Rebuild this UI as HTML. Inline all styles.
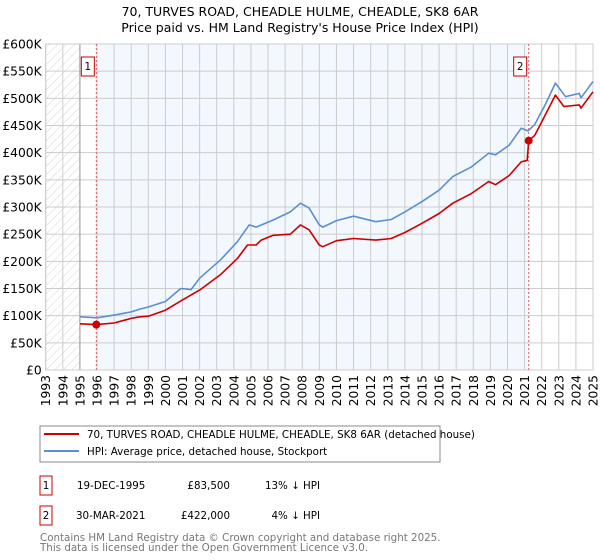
<!DOCTYPE html>
<html><head><meta charset="utf-8"><style>
body{margin:0;background:#fff;font-family:"DejaVu Sans","Liberation Sans",sans-serif;}
#wrap{position:relative;width:600px;height:560px;overflow:hidden}
</style></head><body><div id="wrap">
<svg id="svg" width="600" height="560" style="font-family:'DejaVu Sans','Liberation Sans',sans-serif">
<defs><pattern id="hatch" width="6" height="6" patternUnits="userSpaceOnUse" patternTransform="rotate(45)"><line x1="0" y1="0" x2="0" y2="6" stroke="#ccc" stroke-width="0.8"/></pattern></defs>
<text x="300" y="16" text-anchor="middle" font-size="12.5">70, TURVES ROAD, CHEADLE HULME, CHEADLE, SK8 6AR</text>
<text x="300" y="32" text-anchor="middle" font-size="12.5">Price paid vs. HM Land Registry's House Price Index (HPI)</text>
<g id="plot"></g>
<rect x="40" y="426" width="400" height="36" fill="#fff" stroke="#888"/>
<line x1="44" y1="434" x2="79" y2="434" stroke="#cc0000" stroke-width="2"/>
<text x="87" y="438" font-size="10.3">70, TURVES ROAD, CHEADLE HULME, CHEADLE, SK8 6AR (detached house)</text>
<line x1="44" y1="451" x2="79" y2="451" stroke="#5b8fd0" stroke-width="2"/>
<text x="87" y="455" font-size="10.3">HPI: Average price, detached house, Stockport</text>
<g font-size="10.3">
<rect x="40" y="476" width="12" height="19" fill="none" stroke="#cc0000"/><text x="46" y="489" text-anchor="middle">1</text>
<text x="77" y="489">19-DEC-1995</text><text x="230" y="489" text-anchor="end">£83,500</text><text x="320" y="489" text-anchor="end">13% ↓ HPI</text>
<rect x="40" y="506" width="12" height="19" fill="none" stroke="#cc0000"/><text x="46" y="519" text-anchor="middle">2</text>
<text x="76" y="519">30-MAR-2021</text><text x="230" y="519" text-anchor="end">£422,000</text><text x="320" y="519" text-anchor="end">4% ↓ HPI</text>
</g>
<text x="40" y="541" font-size="10.3" fill="#777">Contains HM Land Registry data © Crown copyright and database right 2025.</text>
<text x="40" y="551" font-size="10.3" fill="#777">This data is licensed under the Open Government Licence v3.0.</text>
</svg></div>
<script>
const hpiYears=[1995,1996,1997,1998,1998.5,1999,2000,2000.9,2001.5,2002,2003.2,2004.2,2004.9,2005.3,2006.3,2007.3,2007.9,2008.4,2009,2009.2,2010,2011,2012.3,2013.2,2014,2015,2016,2016.8,2017.9,2018.9,2019.3,2020.1,2020.8,2021.2,2021.6,2022.2,2022.8,2023.4,2024.2,2024.3,2025];
const hpiValues=[98,96,101,107,112,116,126,150,148,169,202,236,267,263,276,291,307,298,267,263,275,283,273,277,291,310,331,356,374,399,396,414,445,440,452,488,528,503,509,501,531];
const redYears=[1995,1995.96,1997,1998,1998.5,1999,2000,2001,2002,2003.2,2004.2,2004.8,2005.3,2005.6,2006.3,2007.3,2007.9,2008.4,2009,2009.2,2010,2011,2012.3,2013.2,2014,2015,2016,2016.8,2017.9,2018.9,2019.3,2020.1,2020.8,2021.15,2021.24,2021.6,2022.2,2022.8,2023.3,2024.2,2024.3,2025];
const redValues=[85,83.5,86.5,95,98,99,110,129,147,175,205,230,230,239,248,250,267,258,230,227,238,242,239,242,253,270,288,307,325,347,341,358,383,386,422,432,469,506,485,488,482,512];
const yTicks=[0,50,100,150,200,250,300,350,400,450,500,550,600];
const yTickLabels=["£0","£50K","£100K","£150K","£200K","£250K","£300K","£350K","£400K","£450K","£500K","£550K","£600K"];
const xYears=[1993,1994,1995,1996,1997,1998,1999,2000,2001,2002,2003,2004,2005,2006,2007,2008,2009,2010,2011,2012,2013,2014,2015,2016,2017,2018,2019,2020,2021,2022,2023,2024,2025];
const sales=[{n:"1",t:1995.96,v:83.5},{n:"2",t:2021.24,v:422}];
const X0=45.7,X1=593,Y0=370,Y1=44;
const xs=t=>X0+(t-1993)/32*(X1-X0);
const ys=v=>Y0-v/600*(Y0-Y1);
const NS="http://www.w3.org/2000/svg",g=document.getElementById('plot');
function mk(tag,at,parent){const e=document.createElementNS(NS,tag);for(const k in at)e.setAttribute(k,at[k]);(parent||g).appendChild(e);return e;}
let r=mk('rect',{x:X0,y:Y1,width:X1-X0,height:Y0-Y1,fill:'#fff'});


r=mk('rect',{x:X0,y:Y1,width:xs(1995)-X0,height:Y0-Y1,fill:'url(#hatch)'});


r=mk('rect',{x:xs(sales[0].t),y:Y1,width:xs(sales[1].t)-xs(sales[0].t),height:Y0-Y1,fill:'#f3f7fe'});


yTicks.forEach((v,i)=>{
 let l=mk('line',{x1:X0,x2:X1,y1:ys(v),y2:ys(v),stroke:'#ccc','stroke-width':1});
 
 
 let t=mk('text',{x:X0-4,y:ys(v)+4.5,'text-anchor':'end','font-size':12.3});t.textContent=yTickLabels[i];
 
 
});
xYears.forEach(yr=>{
 let l=mk('line',{x1:xs(yr),x2:xs(yr),y1:Y1,y2:Y0,stroke:'#ccc','stroke-width':1});
 
 
 let t=mk('text',{x:0,y:0,'text-anchor':'end','font-size':12.3,transform:`translate(${xs(yr)+4.5},${Y0+5}) rotate(-90)`});t.textContent=yr;
 
 
});
let b=mk('line',{x1:xs(1995),x2:xs(1995),y1:Y1,y2:Y0,stroke:'#999'});


b=mk('rect',{x:X0,y:Y1,width:X1-X0,height:Y0-Y1,fill:'none',stroke:'#ccc'});


sales.forEach(s=>{
 let l=mk('line',{x1:xs(s.t),x2:xs(s.t),y1:Y1,y2:Y0,stroke:'#e06060','stroke-dasharray':'2,2'});
 
 
});
function path(xa,va,col,name){
 const d=xa.map((t,i)=>(i?'L':'M')+xs(t).toFixed(1)+','+ys(va[i]).toFixed(1)).join('');
 const p=mk('path',{d:d,fill:'none',stroke:col,'stroke-width':1.6,'stroke-linejoin':'round'});
 
 
}
path(hpiYears,hpiValues,'#5b8fd0','hpi-line');
path(redYears,redValues,'#cc0000','price-paid-line');
sales.forEach(s=>{
 let c=mk('circle',{cx:xs(s.t),cy:ys(s.v),r:4,fill:'#cc0000'});
 
 
 let bx=mk('rect',{x:xs(s.t)-15,y:57,width:13,height:19,fill:'#fff',stroke:'#cc0000'});
 
 
 let t=mk('text',{x:xs(s.t)-8.5,y:70,'text-anchor':'middle','font-size':10.3});t.textContent=s.n;
 
 
});
</script></body></html>
